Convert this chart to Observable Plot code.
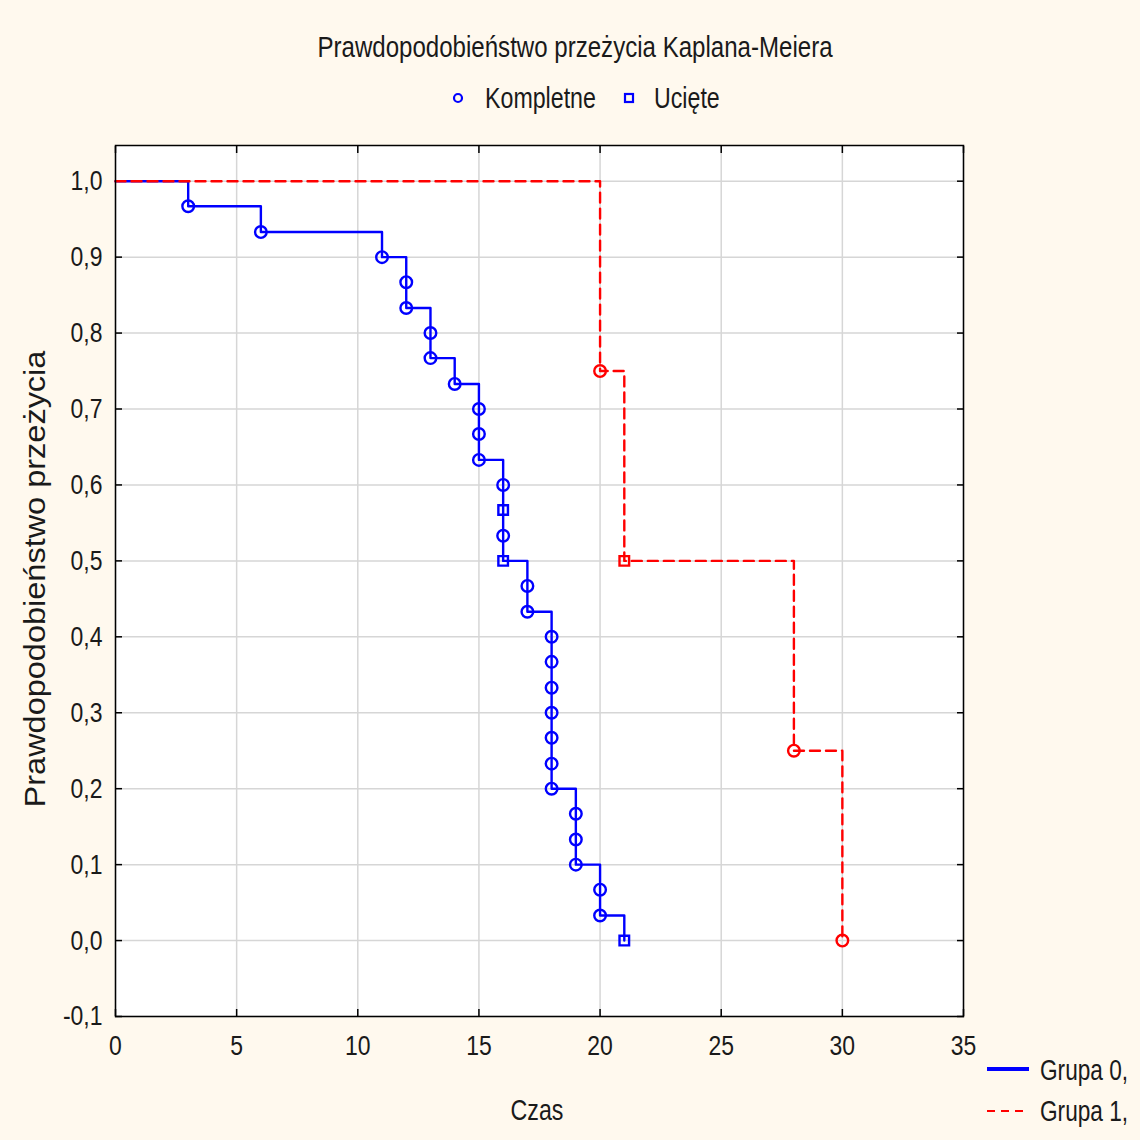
<!DOCTYPE html>
<html><head><meta charset="utf-8">
<script src="https://cdn.jsdelivr.net/npm/d3@7"></script>
<script src="https://cdn.jsdelivr.net/npm/@observablehq/plot@0.6"></script>
<style>
html,body{margin:0;padding:0;background:#FFF9EE;}
#wrap{position:relative;width:1140px;height:1140px;background:#FFF9EE;font-family:"Liberation Sans Narrow","Arial Narrow","Liberation Sans",sans-serif;color:#1a1a1a;overflow:hidden}
#wrap svg.plot{position:absolute;left:0;top:0}
.abs{position:absolute;white-space:nowrap;line-height:1}
</style></head><body><div id="wrap"></div>
<script>
// Group 0 (blue): event times, survival after each event, marker type (K = Kompletne, U = Ucięte)
const group0Time = [3,6,11,12,12,13,13,14,15,15,15,16,16,16,16,17,17,18,18,18,18,18,18,18,19,19,19,20,20,21];
const group0Surv = [0.967,0.933,0.9,0.867,0.833,0.8,0.767,0.733,0.7,0.667,0.633,0.6,0.567,0.533,0.5,0.467,0.433,0.4,0.367,0.333,0.3,0.267,0.233,0.2,0.167,0.133,0.1,0.067,0.033,0.0];
const group0Type = ["K","K","K","K","K","K","K","K","K","K","K","K","U","K","U","K","K","K","K","K","K","K","K","K","K","K","K","K","K","U"];
// Group 1 (red)
const group1Time = [20,21,28,30];
const group1Surv = [0.75,0.5,0.25,0.0];
const group1Type = ["K","U","K","K"];
// Start of both curves
const startTime = 0, startSurv = 1.0;
// Axes
const xTicks = [0,5,10,15,20,25,30,35];
const yTicks = [-0.1,0,0.1,0.2,0.3,0.4,0.5,0.6,0.7,0.8,0.9,1.0];
const xDomain = [0,35];
const yDomain = [-0.1,1.047];
const titleText = "Prawdopodobieństwo przeżycia Kaplana-Meiera";
const yLabel = "Prawdopodobieństwo przeżycia";
const xLabel = "Czas";
const legendTypes = ["Kompletne","Ucięte"];
const groupNames = ["Grupa 0,","Grupa 1,"];

const FONT = '"Liberation Sans Narrow","Arial Narrow","Liberation Sans",sans-serif';
const BLUE = "#0000ff", RED = "#ff0000";

const mk = (times, survs, types) => times.map((t,i)=>({t, s: survs[i], type: types[i]}));
const pts0 = mk(group0Time, group0Surv, group0Type);
const pts1 = mk(group1Time, group1Surv, group1Type);
const line0 = [{t:startTime, s:startSurv}, ...pts0];
const line1 = [{t:startTime, s:startSurv}, ...pts1];
const fmt = d => d.toFixed(1).replace(".", ",");

const chart = Plot.plot({
  width: 1140, height: 1140,
  marginLeft: 115, marginRight: 177, marginTop: 145, marginBottom: 124,
  style: {background: "transparent", fontFamily: FONT, fontSize: "28px", color: "#1a1a1a", overflow: "visible"},
  x: {domain: xDomain},
  y: {domain: yDomain},
  marks: [
    Plot.frame({fill: "white", stroke: null}),
    Plot.gridX(xTicks, {stroke: "#d6d6d6", strokeOpacity: 1, strokeWidth: 1.5}),
    Plot.gridY(yTicks, {stroke: "#d6d6d6", strokeOpacity: 1, strokeWidth: 1.5}),
    Plot.axisY(yTicks, {anchor: "left", tickSize: -7, tickPadding: 20, tickFormat: fmt, label: null, stroke: "#000", strokeWidth: 1.5}),
    Plot.axisY(yTicks, {anchor: "right", tickSize: -7, tickFormat: () => "", label: null, stroke: "#000", strokeWidth: 1.5}),
    Plot.axisX(xTicks, {anchor: "bottom", tickSize: -7, tickPadding: 26, label: null, stroke: "#000", strokeWidth: 1.5}),
    Plot.axisX(xTicks, {anchor: "top", tickSize: -7, tickFormat: () => "", label: null, stroke: "#000", strokeWidth: 1.5}),
    Plot.line(line0, {x: "t", y: "s", curve: "step-after", stroke: BLUE, strokeWidth: 2.4}),
    Plot.line(line1, {x: "t", y: "s", curve: "step-after", stroke: RED, strokeWidth: 2.4, strokeDasharray: "10,6"}),
    Plot.dot(pts0, {filter: d => d.type === "K", x: "t", y: "s", symbol: "circle", r: 5.8, stroke: BLUE, strokeWidth: 2.4, fill: "none"}),
    Plot.dot(pts0, {filter: d => d.type === "U", x: "t", y: "s", symbol: "square", r: 5.4, stroke: BLUE, strokeWidth: 2.4, fill: "none"}),
    Plot.dot(pts1, {filter: d => d.type === "K", x: "t", y: "s", symbol: "circle", r: 5.8, stroke: RED, strokeWidth: 2.4, fill: "none"}),
    Plot.dot(pts1, {filter: d => d.type === "U", x: "t", y: "s", symbol: "square", r: 5.4, stroke: RED, strokeWidth: 2.4, fill: "none"}),
    Plot.frame({stroke: "#000", strokeWidth: 1.5})
  ]
});
chart.classList.add("plot");
// condense tick labels horizontally (the reference uses a narrow face)
chart.querySelectorAll('g[aria-label$="tick label"] text').forEach(t => {
  const tr = t.getAttribute("transform") || "";
  t.setAttribute("transform", tr + " scale(0.82,1)");
});
const wrap = document.getElementById("wrap");
wrap.appendChild(chart);

function addText(txt, x, y, size, transform, origin) {
  const d = document.createElement("div");
  d.className = "abs";
  d.textContent = txt;
  d.style.left = x + "px";
  d.style.top = y + "px";
  d.style.fontSize = size + "px";
  d.style.transform = transform;
  if (origin) d.style.transformOrigin = origin;
  wrap.appendChild(d);
  return d;
}
function addSvg(html, x, y, w, h) {
  const ns = "http://www.w3.org/2000/svg";
  const s = document.createElementNS(ns, "svg");
  s.setAttribute("width", w); s.setAttribute("height", h);
  s.style.position = "absolute"; s.style.left = x + "px"; s.style.top = y + "px";
  s.innerHTML = html;
  wrap.appendChild(s);
}
// Title
addText(titleText, 575, 47, 29, "translate(-50%,-50%) scale(0.83,1)");
// Top legend: marker types
addSvg(`<circle cx="6" cy="6" r="4" fill="none" stroke="${BLUE}" stroke-width="2.2"/>`, 452, 92, 12, 12);
addText(legendTypes[0], 485, 98, 29, "translate(0,-50%) scale(0.8,1)", "left center");
addSvg(`<rect x="2" y="2" width="8" height="8" fill="none" stroke="${BLUE}" stroke-width="2.2"/>`, 623, 92, 12, 12);
addText(legendTypes[1], 654, 98, 29, "translate(0,-50%) scale(0.8,1)", "left center");
// Axis titles
addText(yLabel, 35, 579, 29, "translate(-50%,-50%) rotate(-90deg) scale(1.12,1)");
addText(xLabel, 537, 1110, 29, "translate(-50%,-50%) scale(0.8,1)");
// Bottom-right group legend
addSvg(`<line x1="0" y1="4" x2="42" y2="4" stroke="${BLUE}" stroke-width="4"/>`, 987, 1065, 44, 8);
addText(groupNames[0], 1040, 1070, 29, "translate(0,-50%) scale(0.78,1)", "left center");
addSvg(`<line x1="0" y1="4" x2="42" y2="4" stroke="${RED}" stroke-width="2" stroke-dasharray="8,6"/>`, 987, 1107, 44, 8);
addText(groupNames[1], 1040, 1111, 29, "translate(0,-50%) scale(0.78,1)", "left center");
</script>
</body></html>
